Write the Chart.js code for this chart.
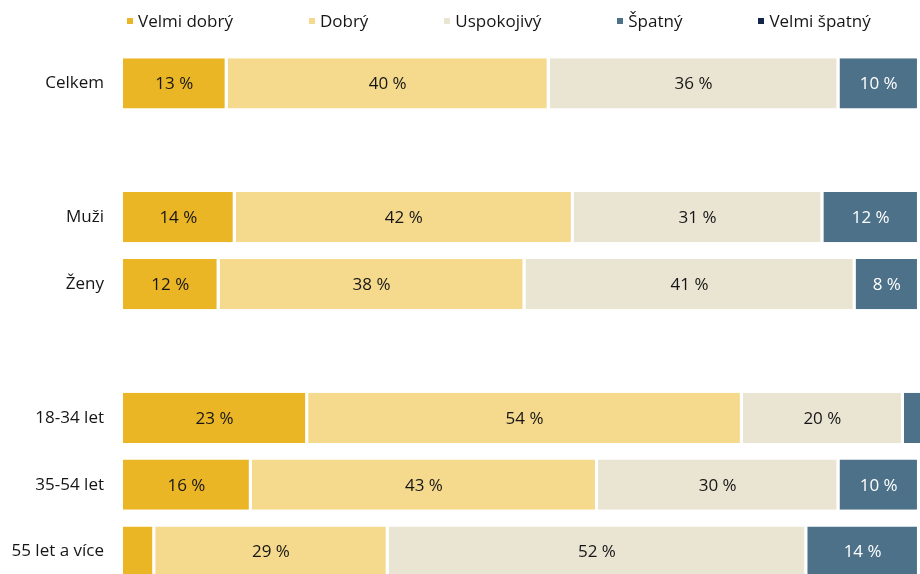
<!DOCTYPE html>
<html lang="cs">
<head>
<meta charset="utf-8">
<title>Hodnocení</title>
<script src="https://cdn.jsdelivr.net/npm/chart.js@4.4.1/dist/chart.umd.min.js"></script>
<style>
  html, body { margin: 0; padding: 0; background: #fff; overflow: hidden; width: 920px; height: 574px; }
  body { position: relative; font-family: 'Open Sans', sans-serif; }
  #legend { position: absolute; top: 9px; left: 127px; display: flex; gap: 76px; font-size: 17px; color: #161616; z-index: 2; }
  .item { display: flex; align-items: center; white-space: nowrap; }
  .box { width: 6px; height: 6px; margin-right: 5px; }
  #wrap { position: absolute; left: 0; top: 0; width: 928px; height: 585px; }
</style>
</head>
<body>
<div id="legend"></div>
<div id="wrap"><canvas id="chart"></canvas></div>
<script>
// data (empty categories are the gaps between groups)
const categories = ['Celkem', '', 'Muži', 'Ženy', '', '18-34 let', '35-54 let', '55 let a více'];
const seriesNames = ['Velmi dobrý', 'Dobrý', 'Uspokojivý', 'Špatný', 'Velmi špatný'];
const velmiDobry  = [13, null, 14, 12, null, 23, 16, 4];
const dobry       = [40, null, 42, 38, null, 54, 43, 29];
const uspokojivy  = [36, null, 31, 41, null, 20, 30, 52];
const spatny      = [10, null, 12, 8, null, 3, 10, 14];
const velmiSpatny = [1, null, 1, 1, null, 0, 1, 1];

const colors = ['#ebb626', '#f5d98c', '#eae4d3', '#4d7189', '#13264a'];
const labelColors = ['#161616', '#161616', '#161616', '#ffffff', '#ffffff'];
const fontFamily = "'Open Sans', sans-serif";

const seriesValues = [velmiDobry, dobry, uspokojivy, spatny, velmiSpatny];

// HTML legend
const legendEl = document.getElementById('legend');
seriesNames.forEach((name, i) => {
  const item = document.createElement('div');
  item.className = 'item';
  const box = document.createElement('span');
  box.className = 'box';
  box.style.background = colors[i];
  const txt = document.createElement('span');
  txt.textContent = name;
  item.appendChild(box);
  item.appendChild(txt);
  legendEl.appendChild(item);
});

// values inside segments
const segmentLabels = {
  id: 'segmentLabels',
  afterDatasetsDraw(chart) {
    const ctx = chart.ctx;
    ctx.save();
    ctx.font = '17px ' + fontFamily;
    ctx.textAlign = 'center';
    ctx.textBaseline = 'middle';
    chart.data.datasets.forEach((ds, i) => {
      chart.getDatasetMeta(i).data.forEach((bar, j) => {
        const v = ds.data[j];
        if (v == null || v < 5) return;
        ctx.fillStyle = labelColors[i];
        ctx.fillText(v + ' %', (bar.x + bar.base) / 2 - 1, bar.y + 1);
      });
    });
    ctx.restore();
  }
};

new Chart(document.getElementById('chart'), {
  type: 'bar',
  data: {
    labels: categories,
    datasets: seriesNames.map((name, i) => ({
      label: name,
      data: seriesValues[i],
      backgroundColor: colors[i],
      borderColor: '#ffffff',
      borderWidth: { top: 0, bottom: 0, left: 0, right: 3 },
      borderSkipped: false,
      inflateAmount: 0,
      categoryPercentage: 1,
      barPercentage: 0.75
    }))
  },
  options: {
    indexAxis: 'y',
    responsive: true,
    maintainAspectRatio: false,
    animation: false,
    layout: { padding: { top: 50, right: 0, bottom: 0, left: 0 } },
    plugins: {
      legend: { display: false },
      tooltip: { enabled: false }
    },
    scales: {
      x: {
        stacked: true,
        min: 0,
        max: 100,
        display: false
      },
      y: {
        stacked: true,
        grid: { display: false, drawTicks: false },
        border: { display: false },
        ticks: { color: '#161616', font: { family: fontFamily, size: 17 }, padding: 19 },
        afterFit(scale) {
          scale.width = 123;
          scale.paddingTop = 0;
          scale.paddingBottom = 0;
        }
      }
    }
  },
  plugins: [segmentLabels]
});
</script>
</body>
</html>
